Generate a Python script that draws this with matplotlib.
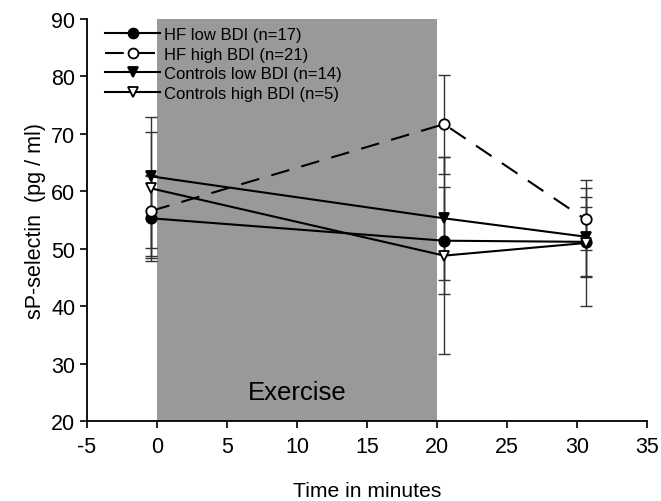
import matplotlib
matplotlib.use("Agg")
import matplotlib.pyplot as plt
import numpy as np

plt.rcParams['font.family'] = ['Liberation Sans', 'DejaVu Sans']
plt.rcParams['axes.unicode_minus'] = False

time_pts = [-0.4, 20.5, 30.6]
series_names = ["HF low BDI (n=17)", "HF high BDI (n=21)",
                "Controls low BDI (n=14)", "Controls high BDI (n=5)"]
hf_low = [55.3, 51.4, 51.2]
hf_high = [56.6, 71.7, 55.1]
ctrl_low = [62.6, 55.3, 52.1]
ctrl_high = [60.5, 48.8, 51.0]
# lower / upper error bar lengths
hf_low_err_lo = [7.5, 9.3, 6.2]
hf_low_err_hi = [7.5, 9.3, 6.0]
hf_high_err_lo = [8.3, 8.6, 5.4]
hf_high_err_hi = [6.0, 8.6, 5.4]
ctrl_low_err_lo = [13.8, 10.7, 6.9]
ctrl_low_err_hi = [10.4, 10.7, 6.9]
ctrl_high_err_lo = [10.3, 17.2, 11.0]
ctrl_high_err_hi = [9.9, 17.2, 11.0]

fig = plt.figure(figsize=(6.61, 5.02), dpi=100)
ax = fig.add_axes([0.1316, 0.1594, 0.979 - 0.1316, 0.960 - 0.1594])

ax.axvspan(0, 20, color='#999999', zorder=0, lw=0)

specs = [
    (hf_low, hf_low_err_lo, hf_low_err_hi, 'o', 'black', '-'),
    (hf_high, hf_high_err_lo, hf_high_err_hi, 'o', 'white', (0, (9, 6))),
    (ctrl_low, ctrl_low_err_lo, ctrl_low_err_hi, 'v', 'black', '-'),
    (ctrl_high, ctrl_high_err_lo, ctrl_high_err_hi, 'v', 'white', '-'),
]
for name, (vals, elo, ehi, m, fc, ls) in zip(series_names, specs):
    ax.errorbar(time_pts, vals, yerr=[elo, ehi], fmt='none', ecolor='#333333',
                elinewidth=1.0, capsize=4.5, capthick=1.0, zorder=2)
    ax.plot(time_pts, vals, linestyle=ls, color='black', lw=1.5, marker=m,
            markersize=7.5, markerfacecolor=fc, markeredgecolor='black',
            markeredgewidth=1.3, label=name, zorder=3)

ax.set_xlim(-5, 35)
ax.set_ylim(20, 90)
ax.set_xticks(np.arange(-5, 36, 5))
ax.set_yticks(np.arange(20, 91, 10))
ax.tick_params(axis='both', labelsize=15.5, direction='out', length=5, width=1.2)
ax.tick_params(axis='x', pad=6)
ax.spines['top'].set_visible(False)
ax.spines['right'].set_visible(False)
ax.spines['left'].set_linewidth(1.3)
ax.spines['bottom'].set_linewidth(1.3)

ax.set_xlabel("Time in minutes", fontsize=15.2, labelpad=17)
ax.set_ylabel("sP-selectin  (pg / ml)", fontsize=15.5, labelpad=4)

ax.text(10, 25, "Exercise", fontsize=18.5, ha='center', va='center')

leg = ax.legend(loc='upper left', bbox_to_anchor=(0.015, 1.005), frameon=False,
                fontsize=12, handlelength=3.3, labelspacing=0.27,
                handletextpad=0.2, borderaxespad=0.2, markerscale=0.95)

fig.savefig("out.png", dpi=100)
